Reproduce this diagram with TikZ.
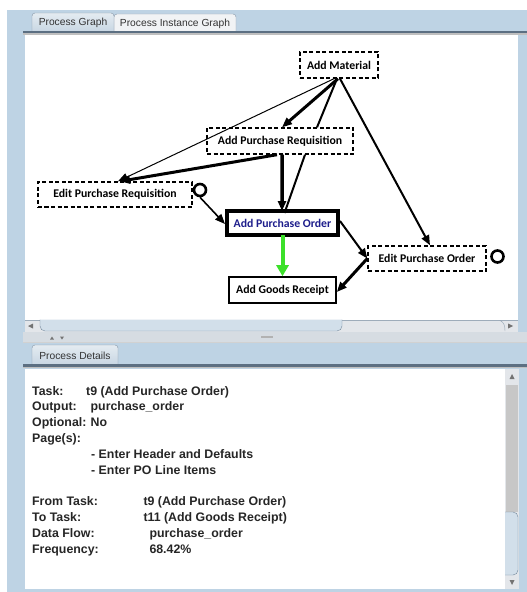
\documentclass[tikz,border=0pt]{standalone}
\usepackage{fontspec}
\setmainfont{Liberation Sans}
\newfontfamily\calib{Carlito}
\usetikzlibrary{arrows.meta}
\definecolor{bgblue}{HTML}{BED3E4}
\definecolor{tabline}{HTML}{5C6F82}
\definecolor{tabsel}{HTML}{C6D5E2}
\definecolor{tabsel2}{HTML}{E4EBF1}
\definecolor{tabun}{HTML}{F1F3F5}
\definecolor{tabbord}{HTML}{8797A7}
\definecolor{sbtrack}{HTML}{E3E6EA}
\definecolor{sbthumb}{HTML}{D2DFEA}
\definecolor{sbbord}{HTML}{74899C}
\definecolor{divgray}{HTML}{D6DCE2}
\definecolor{flowgreen}{HTML}{3CE02A}
\definecolor{apoblue}{HTML}{1E1E8C}
\begin{document}
\begin{tikzpicture}[x=1bp,y=-1bp,
  tasktext/.style={font=\calib\bfseries\fontsize{11.8}{13}\selectfont, inner sep=0pt},
  dashbox/.style={tasktext, draw, line width=1.4bp, dash pattern=on 4bp off 2.5bp},
  solidbox/.style={tasktext, draw, line width=1.6bp},
  tip/.style={-{Triangle[length=10bp,width=8bp]}},
  tabfont/.style={font=\fontsize{10.3}{12}\selectfont, text=black!80, inner sep=0pt},
  det/.style={font=\bfseries\fontsize{12.4}{14}\selectfont, text=black!85, inner sep=0pt, anchor=base west},
  loopc/.style={draw, line width=2.6bp, circle, minimum size=12bp, inner sep=0pt}
]
\useasboundingbox (0,0) rectangle (527,592);
% background
\fill[white] (0,0) rectangle (527,592);
\fill[bgblue] (7,10) rectangle (527,592);

% ---------- upper tabs ----------
\draw[tabbord, fill=tabun, rounded corners=3bp] (114,32) -- (114,14) -- (236,14) -- (236,32);
\shade[top color=tabsel2, bottom color=tabsel, draw=tabbord, rounded corners=3bp] (32,33) -- (32,13) -- (114,13) -- (114,33);
\node[tabfont] (tab1) at (73,23) {Process Graph};
\node[tabfont] (tab2) at (175,23.5) {Process Instance Graph};
\fill[tabline] (23,31) rectangle (527,33.5);
\fill[black!25] (23,33.5) rectangle (527,35);

% graph panel
\fill[white] (25,35) rectangle (518,320);
% horizontal scrollbar
\fill[sbtrack] (25,320) rectangle (518,332);
\draw[sbbord!70] (25,320) -- (518,320);
\fill[black!55] (28,326) -- (33,323.5) -- (33,328.5) -- cycle;
\draw[sbbord, fill=sbthumb, rounded corners=5bp] (40,319.5) -- (40,331) -- (342,331) -- (342,319.5);
\fill[black!55] (513,326) -- (508,323.5) -- (508,328.5) -- cycle;
\draw[sbbord!80] (500,320.5) .. controls (504,322) and (505,326) .. (505,331);
% divider
\fill[divgray] (23,332) rectangle (527,342);
\draw[black!18] (23,342) -- (527,342);
\fill[black!55] (50,339.5) -- (52,336.5) -- (54,339.5) -- cycle;
\fill[black!55] (60,336.5) -- (62,339.5) -- (64,336.5) -- cycle;
\draw[black!30, line width=1.2bp] (261,337) -- (273,337);

% ---------- lower tab ----------
\shade[top color=tabsel2, bottom color=tabsel, draw=tabbord, rounded corners=3bp] (32,366) -- (32,345) -- (118,345) -- (118,366);
\node[tabfont] (tab3) at (75,355.5) {Process Details};
\fill[tabline] (23,364) rectangle (527,366.5);
\fill[black!25] (23,366.5) rectangle (527,368);
% details panel
\fill[white] (25,369) rectangle (519,589);
% vertical scrollbar
\fill[sbtrack] (505,369) rectangle (519,589);
\fill[black!22] (506,385) rectangle (518,512);
\draw[sbbord, fill=sbthumb, rounded corners=5bp] (505,512) -- (518,512) -- (518,575) -- (505,575);
\fill[black!55] (512,374) -- (509.5,379) -- (514.5,379) -- cycle;
\fill[black!55] (512,585) -- (509.5,580) -- (514.5,580) -- cycle;

% ---------- graph nodes ----------
\node[dashbox, minimum width=78bp, minimum height=26bp] (am) at (339,65) {Add Material};
\node[dashbox, minimum width=146bp, minimum height=26bp] (apr) at (280,141) {Add Purchase Requisition};
\node[dashbox, minimum width=154bp, minimum height=25bp] (epr) at (115,194.5) {Edit Purchase Requisition};
\node[tasktext, draw, line width=4bp, text=apoblue, minimum width=111bp, minimum height=24bp] (apo) at (282.5,223) {Add Purchase Order};
\node[dashbox, minimum width=118bp, minimum height=25bp] (epo) at (427,258.5) {Edit Purchase Order};
\node[solidbox, minimum width=107bp, minimum height=26bp] (agr) at (282.5,290) {Add Goods Receipt};
\node[loopc] (eprloop) at (200,190) {};
\node[loopc] (epoloop) at (497.5,256.5) {};

% ---------- edges ----------
\draw[tip, line width=1bp] ([xshift=-5bp]am.south) -- ([xshift=3bp]epr.north);
\draw[tip, line width=3bp] ([xshift=-1bp]am.south) -- ([xshift=2bp]apr.north);
\draw[line width=2bp] ([xshift=-2bp]am.south) -- ([xshift=37bp]apr.north);
\draw[tip, line width=2bp] ([xshift=1bp]am.south) -- ([xshift=3bp]epo.north);
\draw[tip, line width=3bp] ([xshift=-3bp]apr.south) -- ([xshift=5bp]epr.north);
\draw[line width=2bp] ([xshift=25bp]apr.south) -- ([xshift=2bp,yshift=-4bp]apo.north);
\draw[tip, line width=3.5bp] ([xshift=2bp]apr.south) -- ([xshift=-0.5bp,yshift=-2bp]apo.north);
\draw[tip, line width=1.6bp] (eprloop.south) -- ([yshift=-1bp]apo.west);
\draw[tip, line width=2bp] ([yshift=2bp]apo.east) -- (epo.west);
\draw[tip, line width=3bp] (epo.west) -- ([yshift=-2bp]agr.east);
\draw[flowgreen, -{Triangle[length=11bp,width=12bp]}, line width=4bp] ([yshift=2bp]apo.south) -- (agr.north);

% ---------- details ----------
\node[det] (l1) at (32,395) {Task:};
\node[det] (v1) at (86,395) {t9 (Add Purchase Order)};
\node[det] (l2) at (32,410.8) {Output:};
\node[det] (v2) at (90.5,410.8) {purchase\_order};
\node[det] (l3) at (32,426.6) {Optional:};
\node[det] (v3) at (90.5,426.6) {No};
\node[det] (l4) at (32,442.4) {Page(s):};
\node[det] (p1) at (91,458.2) {- Enter Header and Defaults};
\node[det] (p2) at (91,474) {- Enter PO Line Items};
\node[det] (l5) at (32,505.6) {From Task:};
\node[det] (v5) at (143.3,505.6) {t9 (Add Purchase Order)};
\node[det] (l6) at (32,521.4) {To Task:};
\node[det] (v6) at (143.3,521.4) {t11 (Add Goods Receipt)};
\node[det] (l7) at (32,537.2) {Data Flow:};
\node[det] (v7) at (149.3,537.2) {purchase\_order};
\node[det] (l8) at (32,553) {Frequency:};
\node[det] (v8) at (149.3,553) {68.42\%};
\end{tikzpicture}
\end{document}
